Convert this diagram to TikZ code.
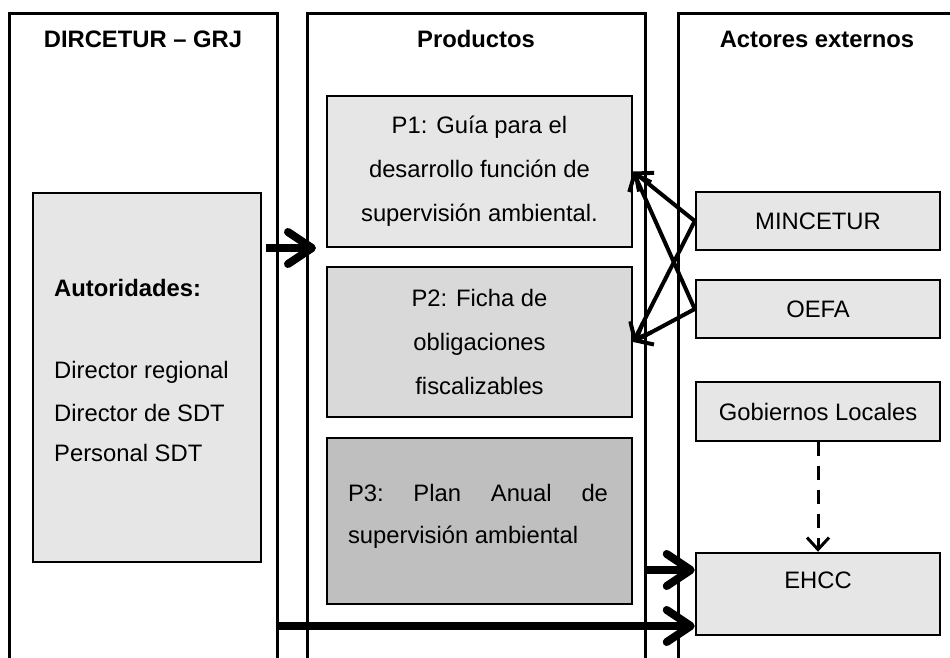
\documentclass[tikz,border=0pt]{standalone}
\usepackage{fontspec}
\setmainfont{Liberation Sans}
\usetikzlibrary{arrows.meta}
\definecolor{boxa}{HTML}{E6E6E6}
\definecolor{boxb}{HTML}{D9D9D9}
\definecolor{boxc}{HTML}{BFBFBF}
\begin{document}
\begin{tikzpicture}[x=1pt,y=-1pt,
  every node/.style={font=\fontsize{23.8pt}{44pt}\selectfont, inner sep=0pt, text=black},
  hdr/.style={font=\fontsize{23.8pt}{28pt}\selectfont\bfseries},
  col/.style={line width=3pt},
  box/.style={draw, line width=2.5pt, rectangle, inner sep=0pt},
  bigarrow/.style={line width=8pt, -{Straight Barb[round,length=24pt,width=32pt]}},
  xarrow/.style={line width=4pt, -{Straight Barb[length=14pt,width=24pt]}},
  darrow/.style={line width=3pt, dash pattern=on 14pt off 10pt, -{Straight Barb[length=12pt,width=22pt]}}
]
\useasboundingbox (0,0) rectangle (950,657);
\begin{scope}
\clip (0,0) rectangle (950,657);
% columns
\draw[col] (9,680) -- (9,13) -- (277,13) -- (277,680);
\draw[col] (307,680) -- (307,13) -- (645,13) -- (645,680);
\draw[col] (678,680) -- (678,13) -- (970,13);
% headers
\node[hdr] (hdirc) at (143,39) {DIRCETUR – GRJ};
\node[hdr] (hprod) at (476,39) {Productos};
\node[hdr] (hact) at (817,39) {Actores externos};
% left box
\node[box, fill=boxa, minimum width=228pt, minimum height=369pt] (aut) at (147,377.5) {};
\node[anchor=west, font=\fontsize{23.8pt}{28pt}\selectfont\bfseries] (autt) at (54,288) {Autoridades:};
\node[anchor=west] (d1) at (54,372) {Director regional};
\node[anchor=west] (d2) at (54,413) {Director de SDT};
\node[anchor=west] (d3) at (54,453) {Personal SDT};
% products
\node[box, fill=boxa, minimum width=305pt, minimum height=151pt, align=center] (p1) at (479.5,171.5)
  {P1: Guía para el\\desarrollo función de\\supervisión ambiental.};
\node[box, fill=boxb, minimum width=305pt, minimum height=150pt, align=center] (p2) at (479.5,342)
  {P2: Ficha de\\obligaciones\\fiscalizables};
\node[box, fill=boxc, minimum width=305pt, minimum height=166pt] (p3) at (479.5,521) {};
\node[align=left, font=\fontsize{23.8pt}{42pt}\selectfont] (p3t) at (478,516)
  {\makebox[260pt][l]{P3:\hfill Plan\hfill Anual\hfill de}\\supervisión ambiental};
% external actors
\node[box, fill=boxa, minimum width=244pt, minimum height=58pt] (min) at (818,221) {MINCETUR};
\node[box, fill=boxa, minimum width=244pt, minimum height=58pt] (oefa) at (818,309) {OEFA};
\node[box, fill=boxa, minimum width=244pt, minimum height=59pt] (gob) at (818,411.5) {Gobiernos Locales};
\node[box, fill=boxa, minimum width=244pt, minimum height=82pt] (ehcc) at (818,594) {};
\node (ehcct) at (818,580) {EHCC};
% arrows
\coordinate (a1s) at (266,248);
\coordinate (a1e) at (316,248);
\draw[bigarrow] (a1s) -- (a1e);
\draw[xarrow] (min.west) -- (p1.east);
\draw[xarrow] (oefa.west) -- (p1.east);
\draw[xarrow] (min.west) -- (p2.east);
\draw[xarrow] (oefa.west) -- (p2.east);
\draw[darrow] (gob.south) -- (ehcc.north);
\coordinate (e1s) at (645,570);
\coordinate (e2s) at (277,626);
\draw[bigarrow] (e1s) -- (ehcc.west |- e1s);
\draw[bigarrow] (e2s) -- (ehcc.west |- e2s);
\end{scope}
\end{tikzpicture}
\end{document}
